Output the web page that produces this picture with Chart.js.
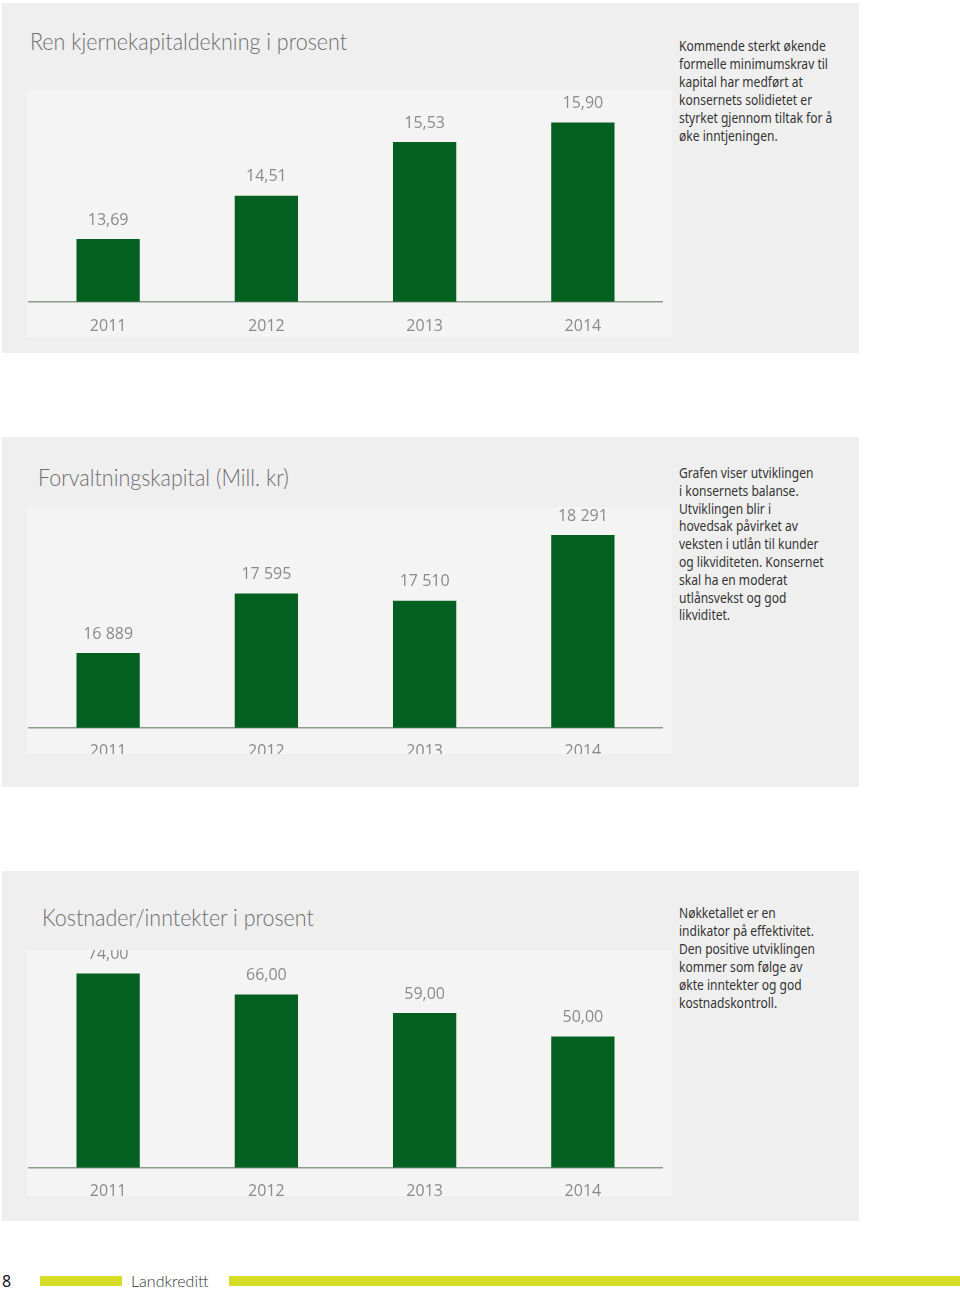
<!DOCTYPE html>
<html>
<head>
<meta charset="utf-8">
<script src="https://cdn.jsdelivr.net/npm/chart.js@4.4.0/dist/chart.umd.min.js"></script>
<style>
  body { margin: 0; background: #fff; width: 960px; height: 1292px; position: relative; overflow: hidden; }
  .panel { position: absolute; left: 2px; width: 857px; height: 350px; background: #efefef; }
  .plot { position: absolute; left: 27px; width: 645px; background: #f4f4f4; overflow: hidden; }
  .title { position: absolute; font-family: Lato, "Open Sans", sans-serif; font-weight: 300; font-size: 24px; color: #6e6e6e; white-space: nowrap; transform: scaleX(0.895); transform-origin: left top; }
  .note { position: absolute; left: 679px; font-family: "Noto Sans", "Open Sans", sans-serif; font-size: 14px; line-height: 18px; color: #333; white-space: pre; transform: scaleX(0.86); transform-origin: left top; }
  .foot { position: absolute; top: 1270px; font-size: 16px; line-height: 22px; }
  .lime { position: absolute; top: 1276px; height: 10px; background: #d5dd26; }
</style>
</head>
<body>

<div class="panel" style="top:3px"></div>
<div class="panel" style="top:437px"></div>
<div class="panel" style="top:871px"></div>

<div class="title" style="left:30px; top:26px">Ren kjernekapitaldekning i prosent</div>
<div class="title" style="left:38px; top:462px">Forvaltningskapital (Mill. kr)</div>
<div class="title" style="left:42px; top:902px">Kostnader/inntekter i prosent</div>

<div class="note" style="top:37px">Kommende sterkt økende
formelle minimumskrav til
kapital har medført at
konsernets solidietet er
styrket gjennom tiltak for å
øke inntjeningen.</div>
<div class="note" style="top:464px; line-height:17.8px">Grafen viser utviklingen
i konsernets balanse.
Utviklingen blir i
hovedsak påvirket av
veksten i utlån til kunder
og likviditeten. Konsernet
skal ha en moderat
utlånsvekst og god
likviditet.</div>
<div class="note" style="top:904px">Nøkketallet er en
indikator på effektivitet.
Den positive utviklingen
kommer som følge av
økte inntekter og god
kostnadskontroll.</div>

<div class="plot" style="top:90px; height:247px"><canvas id="c1" width="645" height="264"></canvas></div>
<div class="plot" style="top:507px; height:247px"><canvas id="c2" width="645" height="271"></canvas></div>
<div class="plot" style="top:950px; height:246px"><canvas id="c3" width="645" height="268"></canvas></div>

<div class="foot" style="left:2px; font-family: 'Noto Sans', sans-serif; color:#111">8</div>
<div class="lime" style="left:40px; width:82px"></div>
<div class="foot" style="left:131px; font-family: Lato, 'Open Sans', sans-serif; font-weight:300; color:#333">Landkreditt</div>
<div class="lime" style="left:229px; width:731px"></div>

<script>
const years = ['2011', '2012', '2013', '2014'];
const kapitalDekning = [13.69, 14.51, 15.53, 15.90];
const forvaltning = [16889, 17595, 17510, 18291];
const kostInntekt = [74.00, 66.00, 59.00, 50.00];

const comma2 = v => v.toFixed(2).replace('.', ',');
const thousands = v => String(v).replace(/\B(?=(\d{3})+(?!\d))/g, ' ');

const valueLabels = {
  id: 'valueLabels',
  afterDatasetsDraw(chart, args, opts) {
    const ctx = chart.ctx;
    const meta = chart.getDatasetMeta(0);
    ctx.save();
    ctx.font = '16px "Open Sans", sans-serif';
    ctx.fillStyle = '#8a8a8a';
    ctx.textAlign = 'center';
    ctx.textBaseline = 'middle';
    meta.data.forEach((bar, i) => {
      ctx.fillText(opts.format(chart.data.datasets[0].data[i]), bar.x, bar.y - 19);
    });
    ctx.restore();
  }
};

function makeChart(id, values, min, max, padTop, tickPad, format) {
  return new Chart(document.getElementById(id).getContext('2d'), {
    type: 'bar',
    data: {
      labels: years,
      datasets: [{
        data: values,
        backgroundColor: '#036020',
        categoryPercentage: 1,
        barPercentage: 0.4
      }]
    },
    plugins: [valueLabels],
    options: {
      responsive: false,
      animation: false,
      layout: { padding: { left: 2, right: 10, top: padTop, bottom: 3 } },
      plugins: {
        legend: { display: false },
        tooltip: { enabled: false },
        valueLabels: { format: format }
      },
      scales: {
        x: {
          grid: { display: false, drawTicks: false },
          border: { display: true, color: '#8e9a8e', width: 1.5 },
          ticks: { color: '#8a8a8a', padding: tickPad, font: { family: '"Open Sans", sans-serif', size: 16 } }
        },
        y: { display: false, min: min, max: max }
      }
    }
  });
}

makeChart('c1', kapitalDekning, 12.5, 16.5, 1, 15, comma2);
makeChart('c2', forvaltning, 16000, 18600, 2, 14, thousands);
makeChart('c3', kostInntekt, 0, 83, 0, 14, comma2);
</script>
</body>
</html>
